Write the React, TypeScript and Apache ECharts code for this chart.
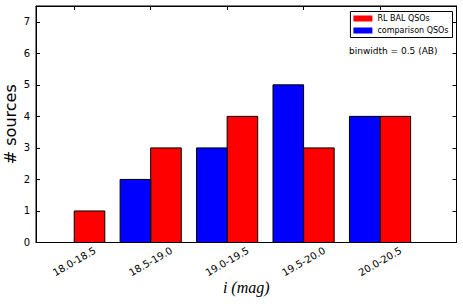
import React, { useEffect, useRef } from "react";
import * as echarts from "echarts";

const categories = ["18.0-18.5", "18.5-19.0", "19.0-19.5", "19.5-20.0", "20.0-20.5"];
const rlBal = [1, 3, 4, 3, 4];
const comparison = [0, 2, 3, 5, 4];
const yTicks = [0, 1, 2, 3, 4, 5, 6, 7];
const groupPositions = categories.map((_, i) => i);
const barW = 0.4;

function barRender(offset: number) {
  return (params: any, api: any) => {
    const x = api.value(0);
    const y = api.value(1);
    if (!y) return null;
    const p0 = api.coord([x + offset, y]);
    const p1 = api.coord([x + offset + barW, 0]);
    return {
      type: "rect",
      shape: { x: p0[0], y: p0[1], width: p1[0] - p0[0], height: p1[1] - p0[1] },
      style: { fill: api.visual("color"), stroke: "#000", lineWidth: 1 },
    };
  };
}

export default function App() {
  const ref = useRef<HTMLDivElement>(null);
  useEffect(() => {
    const chart = echarts.init(ref.current!, null, { renderer: "svg" });
    const font = "DejaVu Sans";
    const tick = { show: true, inside: true, length: 4, lineStyle: { color: "#000" } };
    chart.setOption({
      animation: false,
      grid: {
        left: 36,
        right: 6.5,
        top: 6,
        bottom: 61.5,
        show: true,
        borderColor: "#000",
        borderWidth: 1,
        containLabel: false,
        outerBoundsMode: "none",
      },
      xAxis: [
        {
          type: "value",
          min: -0.5,
          max: 5,
          splitLine: { show: false },
          axisLine: { show: true, onZero: false, lineStyle: { color: "#000" } },
          axisTick: { ...tick, customValues: groupPositions },
          axisLabel: {
            customValues: groupPositions,
            formatter: (v: number) => categories[Math.round(v)] ?? "",
            rotate: 30,
            align: "center",
            verticalAlign: "middle",
            margin: 19,
            fontFamily: font,
            fontSize: 10,
            color: "#000",
          },
          name: "i (mag)",
          nameLocation: "middle",
          nameGap: 37,
          nameMoveOverlap: false,
          nameTextStyle: { fontFamily: "Liberation Serif", fontStyle: "italic", fontSize: 16, color: "#000" },
        },
        {
          type: "value",
          position: "top",
          min: -0.5,
          max: 5,
          splitLine: { show: false },
          axisLine: { show: true, onZero: false, lineStyle: { color: "#000" } },
          axisTick: { ...tick, customValues: groupPositions },
          axisLabel: { show: false },
        },
      ],
      yAxis: [
        {
          type: "value",
          min: 0,
          max: 7.5,
          interval: 1,
          splitLine: { show: false },
          axisLine: { show: true, onZero: false, lineStyle: { color: "#000" } },
          axisTick: { ...tick, customValues: yTicks },
          axisLabel: { customValues: yTicks, fontFamily: font, fontSize: 10, color: "#000", margin: 6 },
          name: "# sources",
          nameLocation: "middle",
          nameGap: 18,
          nameMoveOverlap: false,
          nameTextStyle: { fontFamily: font, fontSize: 16, color: "#000" },
        },
        {
          type: "value",
          position: "right",
          min: 0,
          max: 7.5,
          interval: 1,
          splitLine: { show: false },
          axisLine: { show: true, onZero: false, lineStyle: { color: "#000" } },
          axisTick: { ...tick, customValues: yTicks },
          axisLabel: { show: false },
        },
      ],
      legend: {
        orient: "vertical",
        right: 10.5,
        top: 11.5,
        padding: [3, 4, 3, 3],
        itemGap: 4,
        itemWidth: 19,
        itemHeight: 6,
        borderColor: "#000",
        borderWidth: 1,
        icon: "rect",
        textStyle: { fontFamily: font, fontSize: 8, color: "#000", padding: [0, 0, 0, 0] },
        data: ["RL BAL QSOs", "comparison QSOs"],
      },
      graphic: [
        {
          type: "text",
          left: 349,
          top: 46,
          style: { text: "binwidth = 0.5 (AB)", fontFamily: font, fontSize: 9, fill: "#000" },
        },
      ],
      series: [
        {
          name: "RL BAL QSOs",
          type: "custom",
          color: "#ff0000",
          renderItem: barRender(0),
          encode: { x: 0, y: 1 },
          data: rlBal.map((v, i) => [groupPositions[i], v]),
        },
        {
          name: "comparison QSOs",
          type: "custom",
          color: "#0000ff",
          renderItem: barRender(-barW),
          encode: { x: 0, y: 1 },
          data: comparison.map((v, i) => [groupPositions[i], v]),
        },
      ],
    });
    return () => chart.dispose();
  }, []);
  return <div ref={ref} style={{ width: 463, height: 304, position: "absolute", left: 0, top: 0 }} />;
}
